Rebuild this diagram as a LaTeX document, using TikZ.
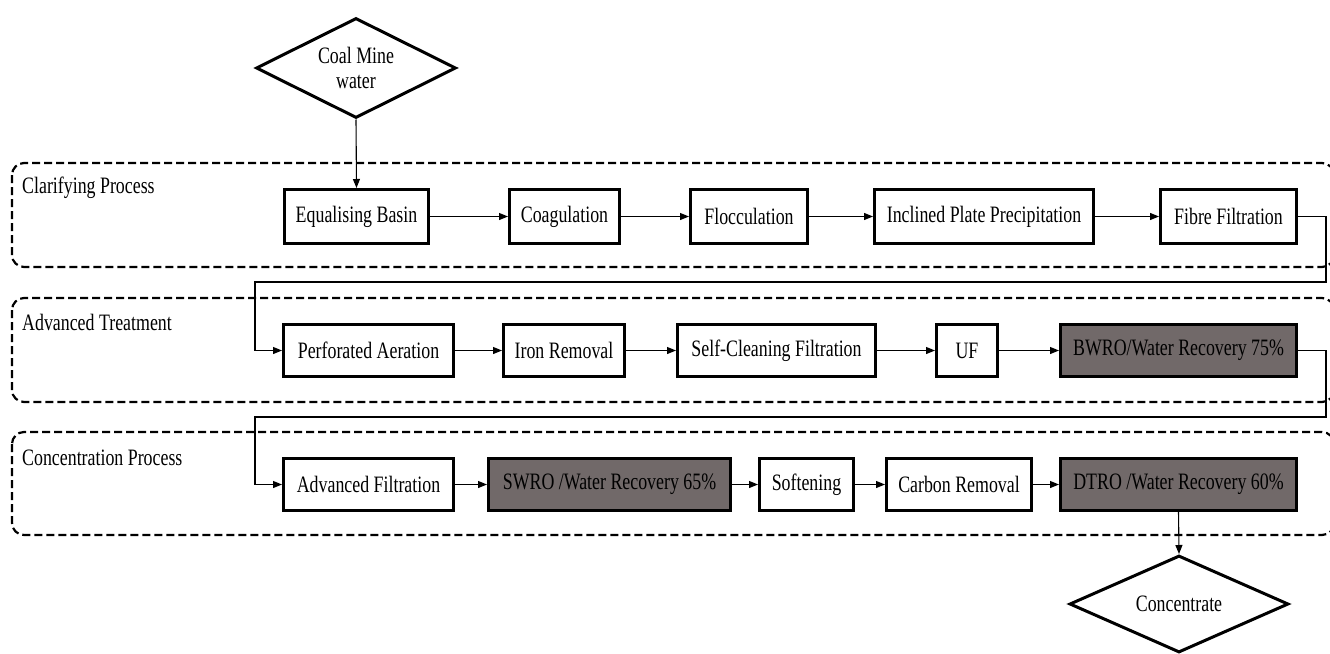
\documentclass[tikz,border=0pt]{standalone}
\usepackage{fontspec}
\setmainfont{Liberation Serif}[FakeStretch=0.76]
\usetikzlibrary{shapes.geometric,arrows.meta}
\definecolor{rogray}{RGB}{113,105,105}
\begin{document}
\begin{tikzpicture}[x=1bp,y=-1bp,
  font=\fontsize{23.5bp}{25bp}\selectfont,
  procbox/.style={draw, line width=3bp, inner sep=0pt, fill=white},
  rowa/.style={procbox, minimum height=54bp},
  rowb/.style={procbox, minimum height=52bp},
  robox/.style={fill=rogray},
  group/.style={draw, dash pattern=on 8bp off 4bp, line width=2.2bp, rounded corners=12bp},
  flow/.style={line width=1.1bp, -{Triangle[length=9bp,width=7bp]}},
  dia/.style={draw, diamond, aspect=2, line width=3bp, inner sep=0pt, align=center, fill=white},
  lab/.style={anchor=base west, inner sep=0pt}]
\clip (0,0) rectangle (1330,654);
\useasboundingbox (0,0) rectangle (1330,654);

% group frames
\draw[group] (12,163) rectangle (1334,267);
\draw[group] (12,298) rectangle (1334,402);
\draw[group] (12,432) rectangle (1334,535);
\node[lab] (lclar) at (22,193) {Clarifying Process};
\node[lab] (ladv) at (22,330) {Advanced Treatment};
\node[lab] (lconc) at (22,465) {Concentration Process};

% start / end
\node[dia, minimum width=200bp, minimum height=100bp] (coal) at (356,68) {Coal Mine\\water};
\node[dia, minimum width=219bp, minimum height=97bp] (conc) at (1179,604) {Concentrate};

% row 1
\node[rowa, minimum width=144bp] (eb) at (356.5,216.5) {Equalising Basin};
\node[rowa, minimum width=110bp] (coag) at (564.5,216.5) {Coagulation};
\node[rowa, minimum width=117bp] (floc) at (749,216.5) {Flocculation};
\node[rowa, minimum width=219bp] (incl) at (984,216.5) {Inclined Plate Precipitation};
\node[rowa, minimum width=136bp] (fibre) at (1228.5,216.5) {Fibre Filtration};

% row 2
\node[rowb, minimum width=170bp] (perf) at (368.5,350.5) {Perforated Aeration};
\node[rowb, minimum width=121bp] (iron) at (564,350.5) {Iron Removal};
\node[rowb, minimum width=198bp] (self) at (776.5,350.5) {Self-Cleaning Filtration};
\node[rowb, minimum width=61bp] (uf) at (967,350.5) {UF};
\node[rowb, robox, minimum width=236bp] (bwro) at (1178.5,350.5) {BWRO/Water Recovery 75\%};

% row 3
\node[rowb, minimum width=170bp] (advf) at (368.5,484.5) {Advanced Filtration};
\node[rowb, robox, minimum width=242bp] (swro) at (609.5,484.5) {SWRO /Water Recovery 65\%};
\node[rowb, minimum width=94bp] (soft) at (806.5,484.5) {Softening};
\node[rowb, minimum width=145bp] (carb) at (959,484.5) {Carbon Removal};
\node[rowb, robox, minimum width=236bp] (dtro) at (1178.5,484.5) {DTRO /Water Recovery 60\%};

% turn points
\coordinate (t1) at (1326,282);
\coordinate (t2) at (255,282);
\coordinate (t3) at (1326,417);
\coordinate (t4) at (255,417);

% connectors
\draw[flow] (coal.south) -- (eb.north);
\draw[flow] (eb) -- (coag);
\draw[flow] (coag) -- (floc);
\draw[flow] (floc) -- (incl);
\draw[flow] (incl) -- (fibre);
\draw[flow] (fibre.east) -| (t1) -- (t2) |- (perf.west);
\draw[flow] (perf) -- (iron);
\draw[flow] (iron) -- (self);
\draw[flow] (self) -- (uf);
\draw[flow] (uf) -- (bwro);
\draw[flow] (bwro.east) -| (t3) -- (t4) |- (advf.west);
\draw[flow] (advf) -- (swro);
\draw[flow] (swro) -- (soft);
\draw[flow] (soft) -- (carb);
\draw[flow] (carb) -- (dtro);
\draw[flow] (dtro.south) -- (conc.north);
\end{tikzpicture}
\end{document}
